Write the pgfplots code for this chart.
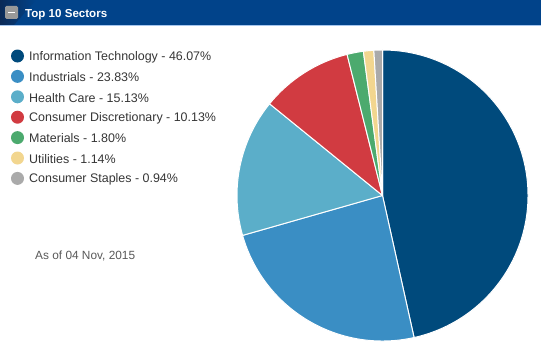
\documentclass[border=0pt]{standalone}
\usepackage{fontspec}
\setmainfont{Liberation Sans}
\usepackage{pgfplots}
\usepackage{pgfplotstable}
\pgfplotsset{compat=1.18}
\definecolor{cIT}{HTML}{004A7C}
\definecolor{cInd}{HTML}{3A8EC4}
\definecolor{cHC}{HTML}{5BAEC9}
\definecolor{cCD}{HTML}{D13B41}
\definecolor{cMat}{HTML}{4CAA6E}
\definecolor{cUt}{HTML}{F2D68F}
\definecolor{cCS}{HTML}{AAAAAA}
\definecolor{hdr}{HTML}{01438A}
\definecolor{hdrdark}{HTML}{0B2A57}
\definecolor{hdrline}{HTML}{A6C6EE}
\definecolor{txt}{HTML}{363636}
\pgfplotstableread[col sep=comma]{
name,value,col
Information Technology,46.07,cIT
Industrials,23.83,cInd
Health Care,15.13,cHC
Consumer Discretionary,10.13,cCD
Materials,1.80,cMat
Utilities,1.14,cUt
Consumer Staples,0.94,cCS
}\sectors
\begin{document}
\begin{tikzpicture}[x=1bp,y=1bp]
\useasboundingbox (0,0) rectangle (541,356);
\fill[white] (0,0) rectangle (541,356);
% header
\fill[hdr] (0,331) rectangle (541,356);
\shade[left color=hdrdark, right color=hdr] (0,331) -- (14,331) -- (36,356) -- (0,356) -- cycle;
\fill[hdrline] (0,330.5) rectangle (541,331.5);
\fill[rounded corners=1.5bp, fill=gray!80] (5,337) rectangle (18,350);
\fill[white] (8,342.6) rectangle (15,344.4);
\node[anchor=base west, text=white, font=\bfseries\fontsize{11.6}{14}\selectfont, inner sep=0pt] at (25,338.5) {Top 10 Sectors};
% total
\def\total{0}
\pgfplotsforeachungrouped \i in {0,...,6}{%
  \pgfplotstablegetelem{\i}{value}\of\sectors
  \pgfmathsetmacro\total{\total+\pgfplotsretval}%
}
% legend
\pgfplotsforeachungrouped \i in {0,...,6}{%
  \pgfplotstablegetelem{\i}{value}\of\sectors \let\v\pgfplotsretval
  \pgfplotstablegetelem{\i}{col}\of\sectors \let\c\pgfplotsretval
  \pgfplotstablegetelem{\i}{name}\of\sectors \let\n\pgfplotsretval
  \pgfmathsetmacro\yy{356-56-20.4*\i}
  \fill[\c] (17.5,\yy) circle[radius=6.5];
  \node[anchor=west, text=txt, font=\fontsize{12.5}{14}\selectfont, inner sep=0pt] at (29,\yy-0.8) {\n\ - \v\%};
}
\node[anchor=west, text=black!65, font=\fontsize{11.9}{13}\selectfont, inner sep=0pt] at (35,100.5) {As of 04 Nov, 2015};
% pie
\begin{axis}[at={(382.5bp,160.5bp)}, anchor=origin, x=145.5bp, y=145.5bp,
  xmin=-1, xmax=1, ymin=-1, ymax=1, hide axis, clip=false]
\def\cum{0}
\pgfplotsforeachungrouped \i in {0,...,6}{%
  \pgfplotstablegetelem{\i}{value}\of\sectors \let\v\pgfplotsretval
  \pgfplotstablegetelem{\i}{col}\of\sectors \let\c\pgfplotsretval
  \pgfmathsetmacro\sa{90-3.6*(\cum/\total)*100}%
  \pgfmathsetmacro\cum{\cum+\v}%
  \pgfmathsetmacro\ea{90-3.6*(\cum/\total)*100}%
  \edef\temp{\noexpand\fill[\c, draw=white, line width=1bp, line join=round] (axis cs:0,0) -- ++(\sa:145.5bp) arc[start angle=\sa, end angle=\ea, radius=145.5bp] -- cycle;}%
  \temp
}
\end{axis}
\end{tikzpicture}
\end{document}
